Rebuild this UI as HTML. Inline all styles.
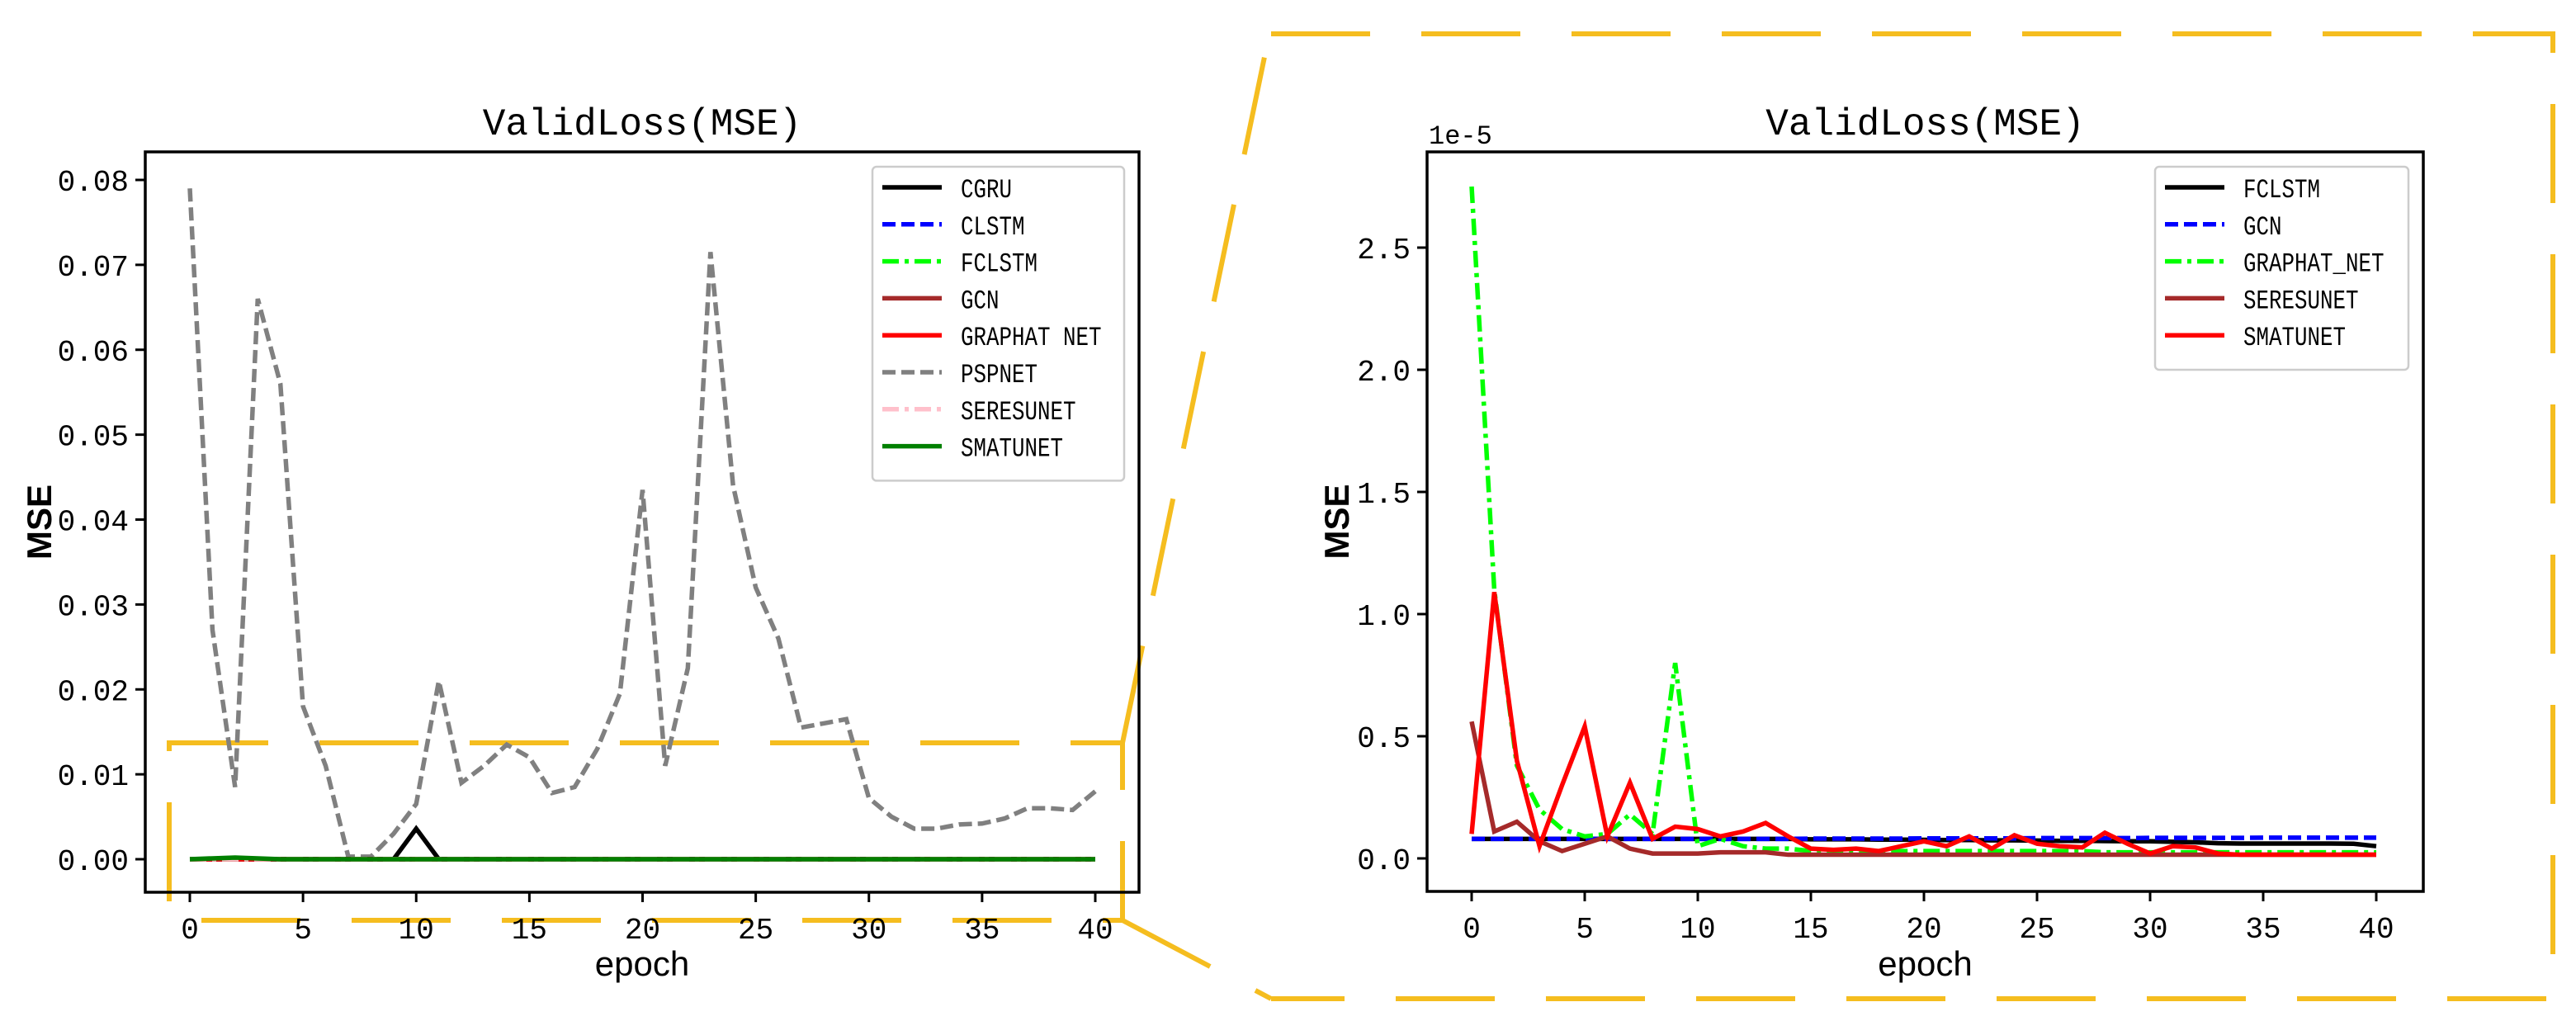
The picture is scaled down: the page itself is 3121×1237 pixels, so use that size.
<!DOCTYPE html>
<html><head><meta charset="utf-8"><style>
html,body{margin:0;padding:0;background:#fff;}
svg{display:block;}
text{font-family:"Liberation Mono","Noto Sans CJK SC",monospace;fill:#000;}
.lbl{font-family:"Liberation Sans",sans-serif;}
</style></head><body>
<svg id="svg" width="3121" height="1237" viewBox="0 0 3121 1237" xmlns="http://www.w3.org/2000/svg">
<g id="deco" fill="none" stroke="#f5bd1f" stroke-width="6" stroke-dasharray="120,62">
<rect x="205" y="900" width="1155" height="215"/>
<line x1="1360" y1="900" x2="1538" y2="40"/>
<line x1="1360" y1="1115" x2="1540" y2="1210"/>
<polyline points="1540,41 3093,41 3093,1210 1540,1210"/>
</g>
<g id="left"></g>
<g id="right"></g>
</svg>
<script>
const epochs = Array.from({length:41},(_,i)=>i);
// left chart data
const leftXTicks = [0,5,10,15,20,25,30,35,40];
const leftYTicks = [0,0.01,0.02,0.03,0.04,0.05,0.06,0.07,0.08];
const leftYLabels = ["0.00","0.01","0.02","0.03","0.04","0.05","0.06","0.07","0.08"];
const pspnet = [0.079,0.027,0.0085,0.066,0.056,0.018,0.011,0.0003,0.0003,0.003,0.0065,0.021,0.009,0.011,0.0135,0.012,0.0078,0.0085,0.013,0.0195,0.0435,0.011,0.0225,0.0715,0.044,0.032,0.026,0.0155,0.016,0.0165,0.0072,0.005,0.0036,0.0036,0.0041,0.0042,0.0048,0.006,0.006,0.0058,0.008];
const cgru = [0,0,0,0,0,0,0,0,0,0,0.0036,0,0,0,0,0,0,0,0,0,0,0,0,0,0,0,0,0,0,0,0,0,0,0,0,0,0,0,0,0,0];
const smatunetL = [0,0.0001,0.0002,0.0001,0,0,0,0,0,0,0,0,0,0,0,0,0,0,0,0,0,0,0,0,0,0,0,0,0,0,0,0,0,0,0,0,0,0,0,0,0];
const zerosL = new Array(41).fill(0);
// right chart data (x1e-5)
const rightXTicks = [0,5,10,15,20,25,30,35,40];
const rightYTicks = [0,0.5,1.0,1.5,2.0,2.5];
const rightYLabels = ["0.0","0.5","1.0","1.5","2.0","2.5"];
const fclstm = [0.08,0.08,0.08,0.08,0.08,0.08,0.08,0.08,0.08,0.08,0.08,0.08,0.08,0.08,0.08,0.078,0.078,0.078,0.077,0.077,0.076,0.075,0.075,0.074,0.074,0.073,0.072,0.072,0.071,0.07,0.07,0.068,0.066,0.062,0.061,0.061,0.061,0.061,0.061,0.06,0.05];
const gcn = [0.08,0.08,0.08,0.08,0.08,0.08,0.08,0.08,0.08,0.08,0.08,0.08,0.08,0.08,0.08,0.081,0.081,0.081,0.081,0.081,0.082,0.082,0.082,0.082,0.082,0.083,0.083,0.083,0.083,0.083,0.084,0.084,0.084,0.084,0.084,0.085,0.085,0.085,0.085,0.085,0.085];
const graphat = [2.75,1.1,0.38,0.2,0.12,0.09,0.1,0.18,0.1,0.8,0.05,0.08,0.05,0.04,0.04,0.03,0.03,0.03,0.03,0.03,0.03,0.03,0.03,0.03,0.03,0.03,0.03,0.03,0.025,0.025,0.025,0.025,0.025,0.025,0.025,0.025,0.025,0.025,0.025,0.025,0.025];
const seresunet = [0.56,0.11,0.15,0.07,0.03,0.06,0.09,0.04,0.02,0.02,0.02,0.025,0.025,0.025,0.015,0.015,0.015,0.015,0.015,0.015,0.015,0.015,0.015,0.015,0.015,0.015,0.015,0.015,0.015,0.015,0.015,0.015,0.015,0.015,0.015,0.015,0.015,0.015,0.015,0.015,0.015];
const smatunetR = [0.1,1.09,0.4,0.05,0.3,0.54,0.09,0.31,0.08,0.13,0.12,0.09,0.11,0.145,0.09,0.04,0.035,0.04,0.03,0.05,0.07,0.05,0.09,0.04,0.095,0.06,0.05,0.045,0.105,0.06,0.02,0.05,0.045,0.02,0.015,0.015,0.015,0.015,0.015,0.015,0.015];

const NS="http://www.w3.org/2000/svg";
function mk(tag,attrs,parent){const e=document.createElementNS(NS,tag);for(const k in attrs)e.setAttribute(k,attrs[k]);parent.appendChild(e);return e;}

function chart(g,box,xT,yT,yL,series,legend,extra){
  const sx=v=>box.x0+(v-0)*(box.x40-box.x0)/40;
  const sy=v=>box.y0+(v-yT[0])*(box.yTop-box.y0)/(yT[yT.length-1]-yT[0]);
  const clip=mk('clipPath',{id:'c'+box.id},g);
  mk('rect',{x:box.l,y:box.t,width:box.r-box.l,height:box.b-box.t},clip);
  const sg=mk('g',{'clip-path':'url(#c'+box.id+')'},g);
  series.forEach(s=>{
    const p=mk('polyline',{points:s.d.map((v,i)=>sx(epochs[i])+','+sy(v)).join(' '),fill:'none',stroke:s.c,'stroke-width':5.5,'stroke-dasharray':s.dash||'none'},sg);
    
    
  });
  const fr=mk('rect',{x:box.l,y:box.t,width:box.r-box.l,height:box.b-box.t,fill:'none',stroke:'#000','stroke-width':3.5},g);
  
  
  xT.forEach(v=>{
    mk('line',{x1:sx(v),x2:sx(v),y1:box.b,y2:box.b+12,stroke:'#000','stroke-width':3},g);
    const t=mk('text',{x:sx(v),y:box.b+56,'font-size':36,'text-anchor':'middle'},g);t.textContent=v;
    
    
  });
  yT.forEach((v,i)=>{
    mk('line',{x1:box.l-12,x2:box.l,y1:sy(v),y2:sy(v),stroke:'#000','stroke-width':3},g);
    const t=mk('text',{x:box.l-20,y:sy(v)+13,'font-size':36,'text-anchor':'end'},g);t.textContent=yL[i];
    
    
  });
  const cx=(box.l+box.r)/2;
  const ti=mk('text',{x:cx,y:163,'font-size':46,'text-anchor':'middle'},g);ti.textContent='ValidLoss(MSE)';
  
  
  const xl=mk('text',{x:cx,y:1182,'font-size':42,'text-anchor':'middle',class:'lbl'},g);xl.textContent='epoch';
  
  
  const yx=box.ylx, yy=(box.t+box.b)/2;
  const yl=mk('text',{x:yx,y:yy,'font-size':42,'text-anchor':'middle',class:'lbl','font-weight':'bold',transform:'rotate(-90 '+yx+' '+yy+')'},g);yl.textContent='MSE';
  
  
  if(extra){const e=mk('text',{x:box.l+2,y:174,'font-size':32},g);e.textContent=extra;
    
    }
  // legend
  const lg=mk('g',{},g);
  
  
  mk('rect',{x:legend.x,y:202,width:legend.w,height:legend.items.length*44.8+22,fill:'#fff',stroke:'#ccc','stroke-width':2.5,rx:5},lg);
  legend.items.forEach((s,i)=>{
    const y=227+i*44.8;
    const e=mk('g',{},lg);
    
    
    mk('line',{x1:legend.x+12,x2:legend.x+84,y1:y,y2:y,stroke:s.c,'stroke-width':5.5,'stroke-dasharray':s.dash||'none'},e);
    const t=mk('text',{x:legend.x+107,y:y+12,'font-size':32,textLength:s.name.length*15.5,lengthAdjust:'spacingAndGlyphs'},e);t.textContent=s.name;
  });
}
const L=document.getElementById('left');
const leftSeries=[
 {name:'PSPNET',d:pspnet,c:'#808080',dash:'16,7'},
 {name:'CGRU',d:cgru,c:'#000'},
 {name:'CLSTM',d:zerosL,c:'#0000ff',dash:'16,7'},
 {name:'FCLSTM',d:zerosL,c:'#00ff00',dash:'20,7,5,7'},
 {name:'GCN',d:zerosL,c:'#a52a2a'},
 {name:'GRAPHAT NET',d:zerosL,c:'#ff0000'},
 {name:'SERESUNET',d:zerosL,c:'#ffc0cb',dash:'20,7,5,7'},
 {name:'SMATUNET',d:smatunetL,c:'#008000'}];
chart(L,{id:'L',l:176,r:1380,t:184,b:1081,x0:230,x40:1327,y0:1041,yTop:218,ylx:62},leftXTicks,leftYTicks,leftYLabels,leftSeries,
 {x:1057,w:305,items:[leftSeries[1],leftSeries[2],leftSeries[3],leftSeries[4],leftSeries[5],leftSeries[0],leftSeries[6],leftSeries[7]]});
const R=document.getElementById('right');
const rightSeries=[
 {name:'FCLSTM',d:fclstm,c:'#000'},
 {name:'GCN',d:gcn,c:'#0000ff',dash:'16,7'},
 {name:'GRAPHAT_NET',d:graphat,c:'#00ff00',dash:'20,7,5,7'},
 {name:'SERESUNET',d:seresunet,c:'#a52a2a'},
 {name:'SMATUNET',d:smatunetR,c:'#ff0000'}];
chart(R,{id:'R',l:1729,r:2936,t:184,b:1080,x0:1783,x40:2879,y0:1040,yTop:300,ylx:1634},rightXTicks,rightYTicks,rightYLabels,rightSeries,
 {x:2611,w:307,items:rightSeries},'1e-5');
</script>
</body></html>
